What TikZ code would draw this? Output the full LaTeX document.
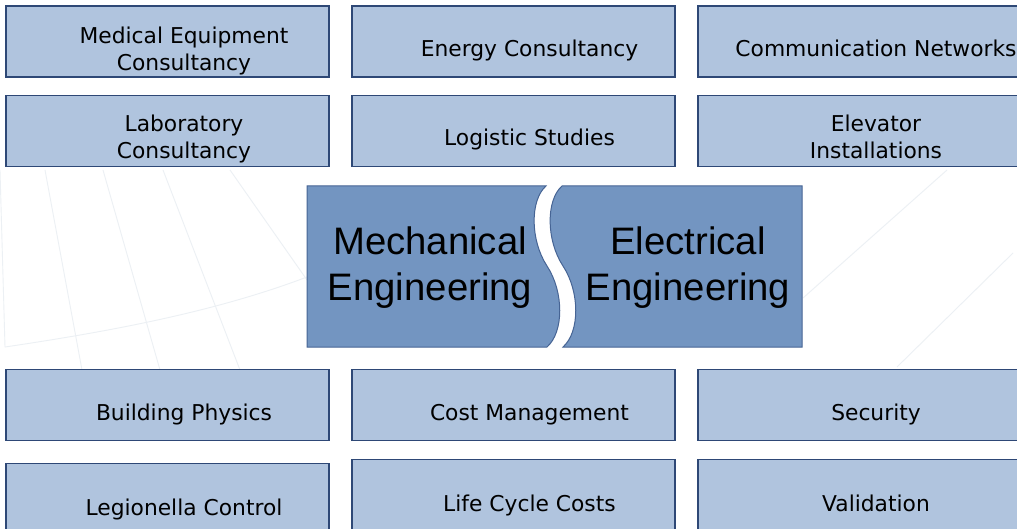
\documentclass[tikz,border=0pt]{standalone}
\usepackage{fontspec}
\newfontfamily\boxfont{DejaVu Sans}
\newfontfamily\bigfont{Liberation Sans}
\definecolor{boxfill}{RGB}{176,196,222}
\definecolor{boxline}{RGB}{46,72,118}
\definecolor{mainfill}{RGB}{115,149,193}
\definecolor{mainline}{RGB}{70,100,148}
\definecolor{gridline}{RGB}{236,240,244}
\begin{document}
\begin{tikzpicture}[x=1pt,y=-1pt,
  smallbox/.style={draw=boxline, line width=1.3pt, fill=boxfill, minimum width=323pt, minimum height=71pt, inner sep=0pt},
  smalltext/.style={font=\boxfont\fontsize{21.8}{27}\selectfont, align=center, inner sep=0pt, text=black},
  bigtext/.style={font=\bigfont\fontsize{38.3}{46}\selectfont, align=center, inner sep=0pt, text=black},
  mainpiece/.style={draw=mainline, line width=1pt, fill=mainfill},
  faint/.style={draw=gridline, line width=0.9pt}]
\useasboundingbox (0,0) rectangle (1017,529);
\fill[white] (0,0) rectangle (1017,529);
% faint background grid
\draw[faint] (0,170) -- (5,347);
\draw[faint] (45,170) -- (82,370);
\draw[faint] (103,170) -- (160,370);
\draw[faint] (163,170) -- (240,370);
\draw[faint] (230,170) -- (307,280);
\draw[faint] (5,347) .. controls (120,330) and (220,310) .. (307,277);
\draw[faint] (803,298) -- (947,170);
\draw[faint] (897,367) -- (1013,253);
% row 1
\node[smallbox] (b11) at (167.5,41.5) {};
\node[smallbox] (b12) at (513.5,41.5) {};
\node[smallbox] (b13) at (859.5,41.5) {};
\node[smalltext] (t11) at (184,51.4) {Medical Equipment\strut\\Consultancy\strut};
\node[smalltext] (t12) at (529.5,51.1) {Energy Consultancy\strut};
\node[smalltext] (t13) at (876,51.1) {Communication Networks\strut};
% row 2
\node[smallbox] (b21) at (167.5,131) {};
\node[smallbox] (b22) at (513.5,131) {};
\node[smallbox] (b23) at (859.5,131) {};
\node[smalltext] (t21) at (184,139.8) {Laboratory\strut\\Consultancy\strut};
\node[smalltext] (t22) at (529.5,140.6) {Logistic Studies\strut};
\node[smalltext] (t23) at (876,139.8) {Elevator\strut\\Installations\strut};
% row 3
\node[smallbox] (b31) at (167.5,405) {};
\node[smallbox] (b32) at (513.5,405) {};
\node[smallbox] (b33) at (859.5,405) {};
\node[smalltext] (t31) at (184,414.6) {Building Physics\strut};
\node[smalltext] (t32) at (529.5,414.6) {Cost Management\strut};
\node[smalltext] (t33) at (876,414.6) {Security\strut};
% row 4
\node[smallbox] (b41) at (167.5,499) {};
\node[smallbox] (b42) at (513.5,495) {};
\node[smallbox] (b43) at (859.5,495) {};
\node[smalltext] (t41) at (184,509.6) {Legionella Control\strut};
\node[smalltext] (t42) at (529.5,506.3) {Life Cycle Costs\strut};
\node[smalltext] (t43) at (876,506.3) {Validation\strut};
% central pieces
\path[mainpiece] (307,186) -- (546,186)
  .. controls (530,200) and (530,240) .. (547,266)
  .. controls (564,292) and (564,332) .. (547,347)
  -- (307,347) -- cycle;
\path[mainpiece] (562,186)
  .. controls (546,200) and (546,240) .. (563,266)
  .. controls (580,292) and (580,332) .. (563,347)
  -- (802,347) -- (802,186) -- cycle;
\node[bigtext] (mech) at (430,267.3) {Mechanical\\Engineering};
\node[bigtext] (elec) at (688,267.3) {Electrical\\Engineering};
\end{tikzpicture}
\end{document}
